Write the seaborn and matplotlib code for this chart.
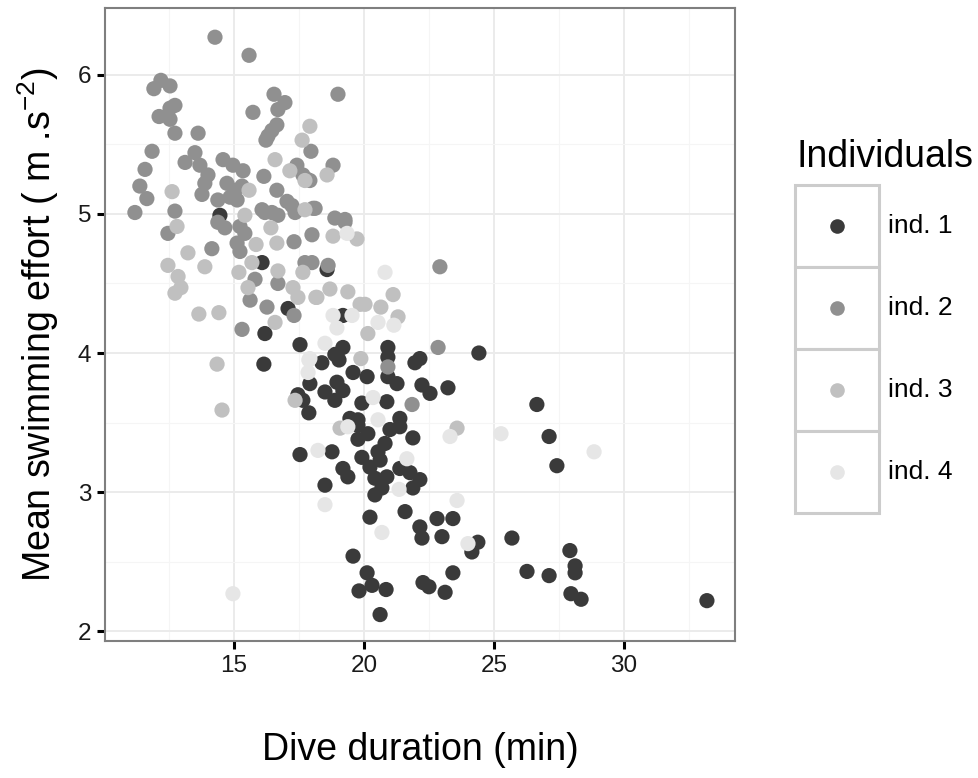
import matplotlib
matplotlib.use("Agg")
import matplotlib.pyplot as plt
from matplotlib.patches import Rectangle
from matplotlib.lines import Line2D
import numpy as np
import pandas as pd
import seaborn as sns

# Dive duration (min) and mean swimming effort (m.s^-2) per individual
ind1_x = [14.46, 16.08, 17.08, 16.19, 17.54, 16.15, 17.92, 17.46, 17.88, 18.58, 19.19, 19.19, 18.88,
          19.04, 18.38, 18.50, 18.96, 19.19, 18.88, 19.58, 20.12, 20.92, 20.92, 20.92, 21.27, 21.96,
          22.15, 22.23, 22.54, 23.23, 24.42, 19.92, 20.88, 17.65, 19.46, 19.77, 21.38,
          17.54, 18.77, 19.77, 19.77, 20.15, 20.54, 20.81, 20.62, 21.00, 21.38, 21.88, 19.92, 20.23,
          19.19, 19.38, 20.42, 20.88, 20.69, 20.42, 21.38, 21.77, 22.15, 21.88, 18.50, 20.23, 21.58,
          22.15, 22.23, 22.81, 23.00, 23.42, 24.38, 24.15, 25.69, 19.58, 20.12, 20.31, 19.81, 20.85,
          22.27, 22.50, 23.42, 23.12, 20.62,
          27.12, 27.42, 26.27, 27.12, 27.92, 28.12, 28.12, 27.96, 28.35, 33.19, 26.65]
ind1_y = [4.99, 4.65, 4.32, 4.14, 4.06, 3.92, 3.78, 3.70, 3.57, 4.60, 4.27, 4.04, 3.99,
          3.95, 3.93, 3.72, 3.79, 3.73, 3.66, 3.86, 3.83, 4.04, 3.97, 3.83, 3.78, 3.93,
          3.96, 3.77, 3.71, 3.75, 4.00, 3.64, 3.65, 3.66, 3.53, 3.52, 3.53,
          3.27, 3.29, 3.48, 3.38, 3.42, 3.29, 3.35, 3.23, 3.45, 3.47, 3.39, 3.25, 3.18,
          3.17, 3.11, 3.10, 3.11, 3.03, 2.98, 3.17, 3.14, 3.09, 3.03, 3.05, 2.82, 2.86,
          2.75, 2.67, 2.81, 2.68, 2.81, 2.64, 2.57, 2.67, 2.54, 2.42, 2.33, 2.29, 2.30,
          2.35, 2.32, 2.42, 2.28, 2.12,
          3.40, 3.19, 2.43, 2.40, 2.58, 2.47, 2.42, 2.27, 2.23, 2.22, 3.63]

ind2_x = [14.27, 15.58, 12.19, 11.92, 12.54, 12.73, 12.54, 12.12, 12.54, 12.73, 13.62, 11.85, 11.58,
          11.38, 11.65, 11.19, 12.73, 13.12, 13.50, 13.69, 14.00, 13.88, 13.77, 14.58, 14.96, 15.35,
          14.73, 15.04, 15.31, 14.38, 14.85, 15.12, 15.73, 16.54, 16.96, 16.69, 16.65, 16.46, 16.31,
          16.23, 17.96, 17.42, 17.65, 17.92, 16.15, 16.65, 16.08, 16.46, 17.04, 17.23, 18.04, 19.00,
          18.81, 17.80, 18.12, 18.88, 19.27, 14.38, 14.65, 12.46, 15.23, 15.42, 15.12, 15.23, 14.15,
          15.81, 15.62, 16.27, 16.69, 17.31, 17.31, 15.31, 17.73, 18.00, 18.00, 16.19, 16.69, 17.35,
          18.62, 19.27, 22.92, 22.85, 20.92, 21.85]
ind2_y = [6.27, 6.14, 5.96, 5.90, 5.92, 5.78, 5.76, 5.70, 5.68, 5.58, 5.58, 5.45, 5.32,
          5.20, 5.11, 5.01, 5.02, 5.37, 5.44, 5.35, 5.28, 5.22, 5.14, 5.39, 5.35, 5.31,
          5.22, 5.17, 5.20, 5.10, 5.12, 5.10, 5.73, 5.86, 5.80, 5.75, 5.64, 5.60, 5.56,
          5.53, 5.45, 5.35, 5.28, 5.24, 5.27, 5.17, 5.03, 5.01, 5.09, 5.06, 5.04, 5.86,
          5.35, 5.25, 5.04, 4.97, 4.96, 4.94, 4.90, 4.86, 4.91, 4.86, 4.79, 4.73, 4.75,
          4.53, 4.38, 4.33, 4.50, 4.80, 4.27, 4.17, 4.65, 4.65, 4.85, 5.01, 4.99, 5.01,
          4.63, 4.94, 4.62, 4.04, 3.90, 3.63]

ind3_x = [17.92, 17.62, 16.58, 17.15, 17.73, 15.58, 12.62, 15.42, 17.73, 18.58, 12.81, 13.23, 12.46,
          13.88, 12.85, 12.96, 12.73, 13.65, 14.42, 14.35, 14.54, 15.85, 16.65, 15.69, 16.42, 16.69,
          17.27, 17.46, 15.19, 15.54, 16.58, 18.15, 17.65, 17.35, 19.73, 18.81, 18.69, 18.19, 19.38,
          19.85, 20.04, 21.12, 20.65, 21.31, 20.15, 19.88, 19.08, 23.58]
ind3_y = [5.63, 5.53, 5.39, 5.31, 5.24, 5.17, 5.16, 4.99, 5.03, 5.28, 4.91, 4.72, 4.63,
          4.62, 4.55, 4.47, 4.43, 4.28, 4.29, 3.92, 3.59, 4.78, 4.79, 4.65, 4.90, 4.59,
          4.47, 4.40, 4.58, 4.47, 4.22, 4.40, 4.58, 3.66, 4.82, 4.84, 4.46, 4.40, 4.44,
          4.35, 4.35, 4.42, 4.33, 4.26, 4.14, 3.96, 3.46, 3.46]

ind4_x = [19.35, 20.81, 18.81, 19.54, 18.96, 20.54, 21.15, 18.50, 17.92, 17.85, 17.88, 20.35, 20.54,
          19.38, 18.23, 18.50, 20.69, 21.65, 21.35, 23.31, 23.58, 24.00, 25.27, 28.85, 14.96]
ind4_y = [4.86, 4.58, 4.27, 4.27, 4.18, 4.22, 4.20, 4.07, 3.96, 3.86, 3.95, 3.68, 3.52,
          3.47, 3.30, 2.91, 2.71, 3.24, 3.02, 3.40, 2.94, 2.63, 3.42, 3.29, 2.27]

labels = ["ind. 1", "ind. 2", "ind. 3", "ind. 4"]
palette = ["#3a3a3a", "#909090", "#c0c0c0", "#e6e6e6"]

df = pd.concat([
    pd.DataFrame({"duration": xs, "effort": ys, "Individuals": lab})
    for xs, ys, lab in zip([ind1_x, ind2_x, ind3_x, ind4_x],
                           [ind1_y, ind2_y, ind3_y, ind4_y], labels)
], ignore_index=True)

sns.set_theme(style="white")
plt.rcParams["font.family"] = ["Liberation Sans", "DejaVu Sans"]
plt.rcParams["mathtext.fontset"] = "custom"
plt.rcParams["mathtext.rm"] = "Liberation Sans"
plt.rcParams["mathtext.it"] = "Liberation Sans:italic"

W, H = 979, 778
fig = plt.figure(figsize=(W / 100, H / 100), dpi=100)
ax = fig.add_axes([105 / W, 1 - 641 / H, (735 - 105) / W, (641 - 8) / H])

sns.scatterplot(data=df, x="duration", y="effort", hue="Individuals",
                hue_order=labels, palette=palette, s=120, linewidth=0,
                legend=False, ax=ax, zorder=3)

ax.set_xlim(10.04, 34.27)
ax.set_ylim(1.93, 6.48)
ax.set_xticks([15, 20, 25, 30])
ax.set_yticks([2, 3, 4, 5, 6])
ax.set_xticks([12.5, 17.5, 22.5, 27.5, 32.5], minor=True)
ax.set_yticks([2.5, 3.5, 4.5, 5.5], minor=True)
ax.grid(True, which="major", color="#ebebeb", linewidth=1.4, zorder=0)
ax.grid(True, which="minor", color="#f5f5f5", linewidth=0.8, zorder=0)
ax.set_axisbelow(True)
for sp in ax.spines.values():
    sp.set_color("#7f7f7f")
    sp.set_linewidth(1.5)
ax.tick_params(axis="both", which="major", direction="out", length=6, width=2.2,
               color="black", labelsize=17.5, labelcolor="#1a1a1a", pad=4,
               left=True, bottom=True)
ax.tick_params(axis="both", which="minor", length=0)

ax.set_xlabel("Dive duration (min)", fontsize=27, color="black")
ax.set_ylabel(r"Mean swimming effort ( m .s$^{-2}$)", fontsize=27, color="black")
ax.xaxis.set_label_coords(0.5, -0.143)
ax.yaxis.set_label_coords(-0.07, 0.5)

# Legend: one bordered key box per individual
fig.text(797 / W, 1 - 157 / H, "Individuals", fontsize=27, va="center", ha="left", color="black")
key_left, key_w, key_h, key_top = 795, 84, 82, 185
for i, (lab, col) in enumerate(zip(labels, palette)):
    top = key_top + i * key_h
    fig.add_artist(Rectangle((key_left / W, 1 - (top + key_h) / H), key_w / W, key_h / H,
                             transform=fig.transFigure, facecolor="white",
                             edgecolor="#cccccc", linewidth=2.2))
    cy = 1 - (top + key_h / 2) / H
    fig.add_artist(Line2D([(key_left + key_w / 2) / W], [cy], marker="o", markersize=10.5,
                          markerfacecolor=col, markeredgewidth=0, linestyle="none",
                          transform=fig.transFigure))
    fig.text(888 / W, cy, lab, fontsize=19, va="center", ha="left", color="black")

fig.savefig("out.png", dpi=100, facecolor="white")
